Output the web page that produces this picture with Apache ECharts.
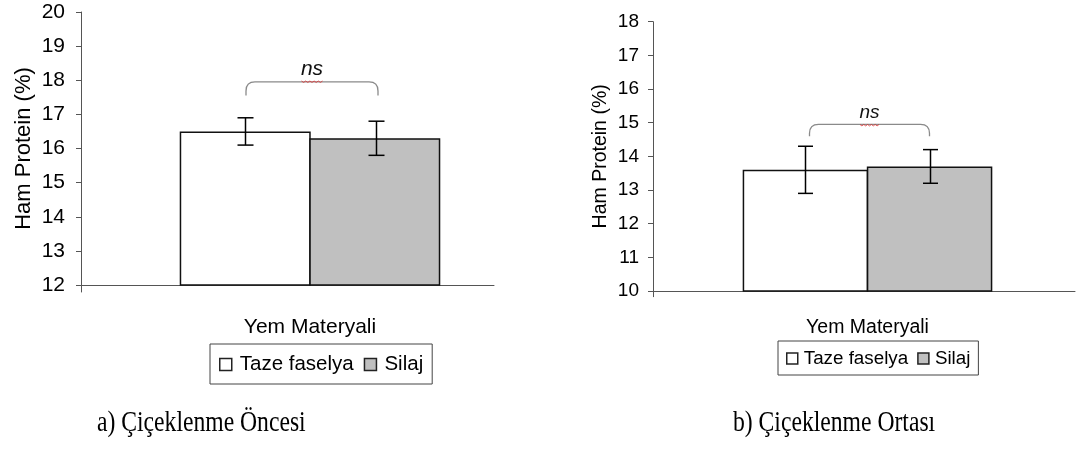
<!DOCTYPE html>
<html>
<head>
<meta charset="utf-8">
<script src="https://cdn.jsdelivr.net/npm/echarts@6/dist/echarts.min.js"></script>
<style>html,body{margin:0;padding:0;background:#fff}#c{width:1082px;height:454px}</style>
</head>
<body>
<div id="c"></div>
<script>
// ---- data ----
const categories = ['Yem Materyali'];
const seriesNames = ['Taze faselya', 'Silaj'];
const leftMeans = [16.5, 16.3];
const leftErrors = [0.4, 0.5];
const rightMeans = [13.6, 13.7];
const rightErrors = [0.7, 0.5];
const leftYRange = [12, 20];
const rightYRange = [10, 18];
const yInterval = 1;
const leftBracket = [17.95, 17.55, 18.03];   // top, ends, ns label
const rightBracket = [14.95, 14.6, 15.0];
const sigLabel = 'ns';
const yAxisName = 'Ham Protein (%)';
const captions = ['a) Çiçeklenme Öncesi', 'b) Çiçeklenme Ortası'];

// ---- styles ----
const FONT = 'Liberation Sans';
const fills = ['#ffffff', '#c0c0c0'];
const axisColor = '#555';

const L = {grid: {left: 81, top: 12, width: 458, height: 273}, line: {left: 81, top: 12, width: 413, height: 280}, ext: 7,
  barW: 131, tick: 21, name: 22, cat: 21, nameGap: 46, labelMargin: 16, catMargin: 32,
  brk: [-64, 68], ns: 21, cap: 8};
const R = {grid: {left: 653, top: 21.7, width: 443, height: 269.3}, line: {left: 653, top: 21.7, width: 422, height: 275}, ext: 5.7,
  barW: 125.5, tick: 19, name: 19.5, cat: 19.5, nameGap: 42, labelMargin: 14, catMargin: 27,
  brk: [-58, 62], ns: 19, cap: 7.5};

function errRender(cfg) {
  return function (params, api) {
    const idx = api.value(3);
    const off = (idx === 0 ? -1 : 1) * cfg.barW / 2;
    const hi = api.coord([api.value(0), api.value(1) + api.value(2)]);
    const lo = api.coord([api.value(0), api.value(1) - api.value(2)]);
    const x = Math.round(hi[0] + off) + 0.5;
    const st = {stroke: '#000', lineWidth: 1.5};
    return {type: 'group', children: [
      {type: 'line', shape: {x1: x, y1: hi[1], x2: x, y2: lo[1]}, style: st},
      {type: 'line', shape: {x1: x - cfg.cap, y1: hi[1], x2: x + cfg.cap, y2: hi[1]}, style: st},
      {type: 'line', shape: {x1: x - cfg.cap, y1: lo[1], x2: x + cfg.cap, y2: lo[1]}, style: st}
    ]};
  };
}
function brkRender(cfg) {
  return function (params, api) {
    const top = api.coord([api.value(0), api.value(1)]);
    const end = api.coord([api.value(0), api.value(2)]);
    const lab = api.coord([api.value(0), api.value(3)]);
    const x1 = top[0] + cfg.brk[0], x2 = top[0] + cfg.brk[1];
    const yt = top[1], ye = end[1], r = 9;
    const d = `M${x1},${ye} L${x1},${yt + r} Q${x1},${yt} ${x1 + r},${yt} L${x2 - r},${yt} Q${x2},${yt} ${x2},${yt + r} L${x2},${ye}`;
    const cx = (x1 + x2) / 2;
    const pts = [];
    const w = cfg.ns * 1.0;
    for (let k = 0; k <= 10; k++) pts.push([cx - w / 2 + k * w / 10, lab[1] + 2 + (k % 2 ? 1.2 : -0.2)]);
    return {type: 'group', children: [
      {type: 'path', shape: {pathData: d}, style: {stroke: '#8a8a8a', lineWidth: 1.3, fill: null}},
      {type: 'text', x: cx, y: lab[1], style: {text: sigLabel, fontStyle: 'italic', fontSize: cfg.ns,
        fontFamily: FONT, fill: '#111', align: 'center', verticalAlign: 'bottom'}},
      {type: 'polyline', shape: {points: pts}, style: {stroke: '#e03030', lineWidth: 0.8, fill: null}}
    ]};
  };
}

function valueAxis(range, cfg, gi) {
  return {type: 'value', gridIndex: gi, min: range[0], max: range[1], interval: yInterval,
    name: yAxisName, nameLocation: 'middle', nameGap: cfg.nameGap,
    nameTextStyle: {fontFamily: FONT, fontSize: cfg.name, color: '#000'},
    axisLine: {show: false}, axisTick: {show: true, length: 5, lineStyle: {color: axisColor}},
    splitLine: {show: false},
    axisLabel: {fontFamily: FONT, fontSize: cfg.tick, color: '#000', margin: cfg.labelMargin}};
}
function catAxis(cfg, gi) {
  return {type: 'category', gridIndex: gi, data: categories, axisLine: {show: false}, axisTick: {show: false},
    axisLabel: {fontFamily: FONT, fontSize: cfg.cat, color: '#000', margin: cfg.catMargin}};
}
function lineX(gi) {
  return {type: 'category', gridIndex: gi, data: [''], axisLine: {show: true, onZero: true, lineStyle: {color: axisColor, width: 1}},
    axisTick: {show: false}, axisLabel: {show: false}};
}
function lineY(gi, cfg) {
  return {type: 'value', gridIndex: gi, min: -cfg.ext, max: cfg.line.height - cfg.ext, axisLine: {show: true, lineStyle: {color: axisColor, width: 1}},
    axisTick: {show: false}, axisLabel: {show: false}, splitLine: {show: false}};
}
function bars(means, cfg, ai) {
  return means.map((m, i) => ({
    type: 'bar', name: seriesNames[i], xAxisIndex: ai, yAxisIndex: ai, data: [m],
    barWidth: cfg.barW, barGap: '-1.1%', z: 2,
    itemStyle: {color: fills[i], borderColor: '#111', borderWidth: 1.5}
  }));
}
function errs(means, errors, cfg, ai) {
  return {type: 'custom', xAxisIndex: ai, yAxisIndex: ai, z: 4, clip: false, silent: true,
    renderItem: errRender(cfg), data: means.map((m, i) => [0, m, errors[i], i])};
}
function brk(b, cfg, ai) {
  return {type: 'custom', xAxisIndex: ai, yAxisIndex: ai, z: 4, clip: false, silent: true,
    renderItem: brkRender(cfg), data: [[0, b[0], b[1], b[2]]]};
}
function legend(pos, pad, gap, fs, iw, tp) {
  return {left: pos[0], top: pos[1], orient: 'horizontal', data: seriesNames, selectedMode: false,
    icon: 'rect', itemWidth: iw, itemHeight: iw, itemGap: gap, padding: pad,
    borderColor: '#444', borderWidth: 1, backgroundColor: '#fff',
    itemStyle: {borderColor: '#222', borderWidth: 1.5},
    textStyle: {fontFamily: FONT, fontSize: fs, color: '#000', padding: [0, 0, 0, tp]}};
}

const chart = echarts.init(document.getElementById('c'), null, {renderer: 'canvas'});
chart.setOption({
  animation: false,
  backgroundColor: '#fff',
  grid: [
    Object.assign({containLabel: false}, L.grid),
    Object.assign({containLabel: false}, R.grid),
    Object.assign({containLabel: false}, L.line),
    Object.assign({containLabel: false}, R.line)
  ],
  xAxis: [catAxis(L, 0), catAxis(R, 1), lineX(2), lineX(3)],
  yAxis: [valueAxis(leftYRange, L, 0), valueAxis(rightYRange, R, 1), lineY(2, L), lineY(3, R)],
  legend: [
    legend([210, 344], [10, 9, 9, 9], 10, 20.5, 12, 3),
    legend([778, 341], [8, 8, 7, 8], 9, 18.8, 11, 1)
  ],
  series: [].concat(
    bars(leftMeans, L, 0), bars(rightMeans, R, 1),
    [errs(leftMeans, leftErrors, L, 0), errs(rightMeans, rightErrors, R, 1),
     brk(leftBracket, L, 0), brk(rightBracket, R, 1)]
  ),
  graphic: [
    {type: 'text', x: 97, y: 423, scaleX: 0.815, style: {text: captions[0], font: '29px "Liberation Serif"', fill: '#000', align: 'left', verticalAlign: 'middle'}},
    {type: 'text', x: 733, y: 423, scaleX: 0.815, style: {text: captions[1], font: '29px "Liberation Serif"', fill: '#000', align: 'left', verticalAlign: 'middle'}}
  ]
});
</script>
</body>
</html>
